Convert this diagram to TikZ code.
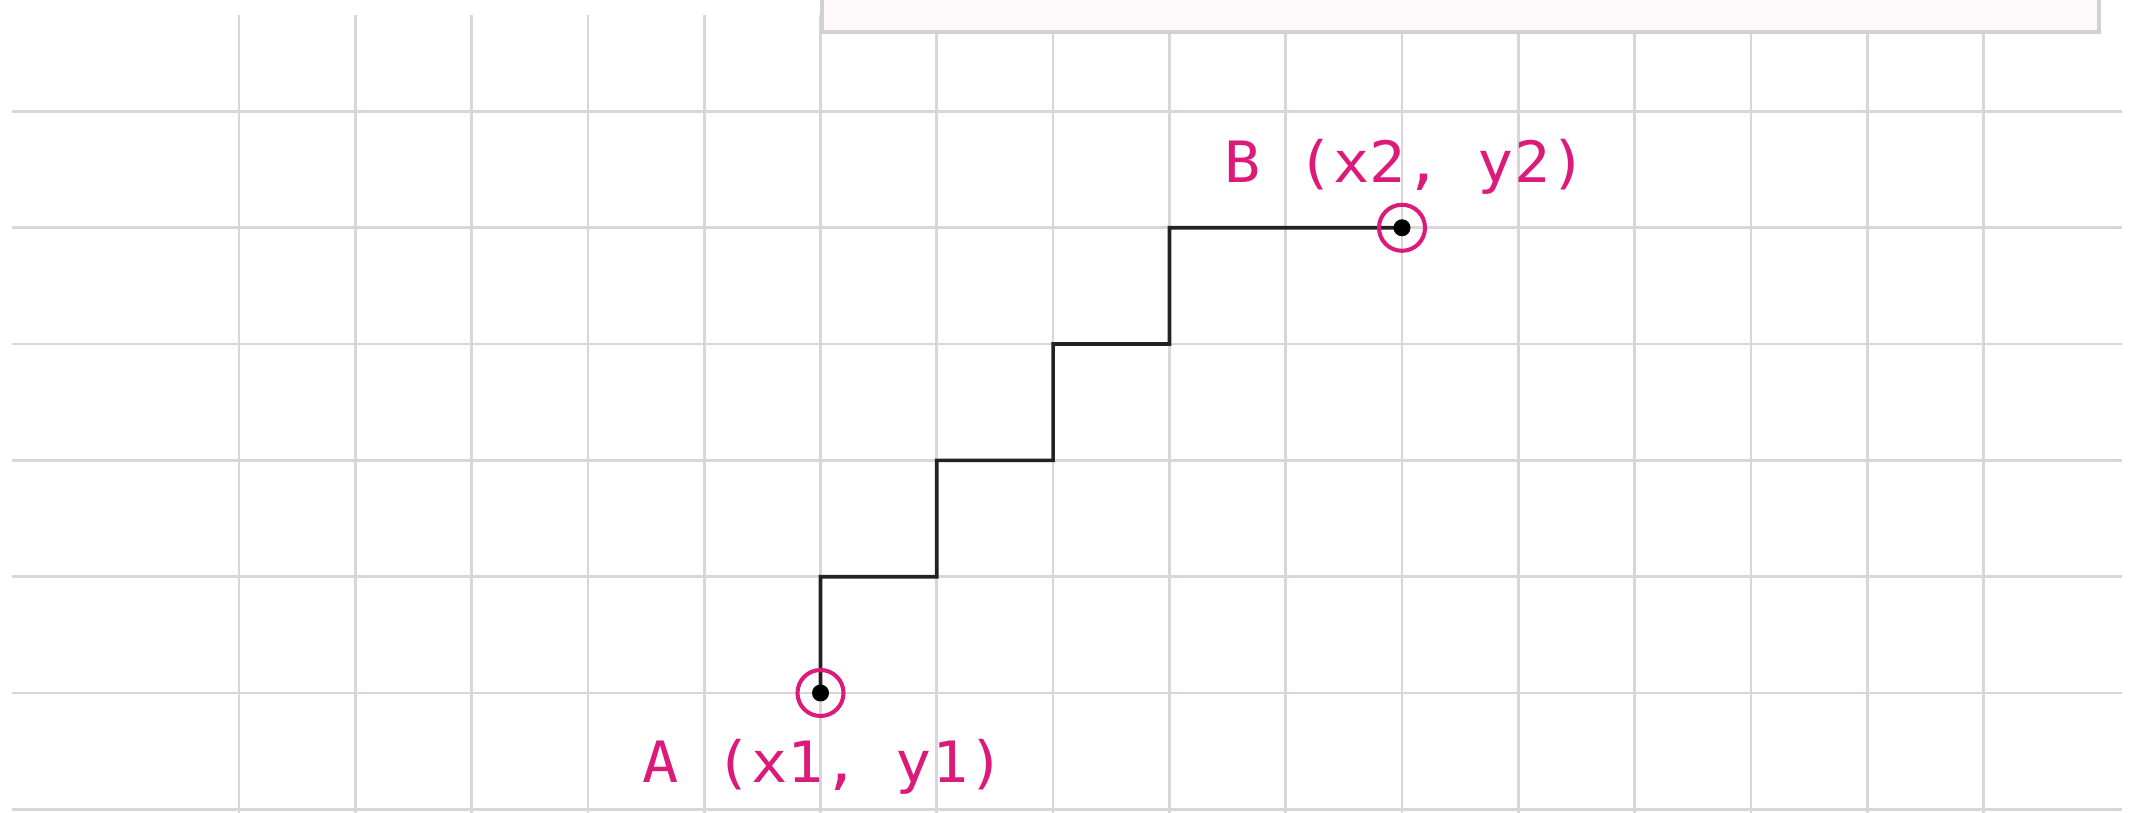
\documentclass[tikz,border=0pt]{standalone}
\usepackage{fontspec}
\usetikzlibrary{backgrounds}
\newfontfamily\lblfont[FakeStretch=1.055]{DejaVu Sans Mono}
\definecolor{mag}{HTML}{DC1A7A}
\definecolor{gridc}{HTML}{D9D6D8}
\definecolor{boxfill}{HTML}{FDF9FB}
\definecolor{boxline}{HTML}{D2D0D1}
\definecolor{stairc}{HTML}{222222}
\tikzset{
  gridline/.style={draw=gridc, line width=0.75pt},
  boxst/.style={draw=boxline, fill=boxfill, line width=1pt},
  stair/.style={draw=stairc, line width=1.05pt},
  ptcircle/.style={circle, draw=mag, line width=1.15pt, minimum size=0.46cm, inner sep=0pt,
    path picture={\fill[black] (path picture bounding box.center) circle (0.085cm);}},
  lbl/.style={text=mag, inner sep=0pt, font=\lblfont\fontsize{16.2}{19}\selectfont}
}
\begin{document}
\begin{tikzpicture}[x=0.01cm,y=-0.01cm]
\useasboundingbox (0,0) rectangle (2132,813);
\node[ptcircle] (A) at (820.5,693) {};
\node[ptcircle] (B) at (1402,227.8) {};
\node[lbl, anchor=base west] (Alab) at (642,783) {A (x1, y1)};
\node[lbl, anchor=base west] (Blab) at (1224,183) {B (x2, y2)};
\begin{scope}[on background layer]
  \fill[white] (0,0) rectangle (2132,813);
  \foreach \i in {0,...,15} \draw[gridline] ({239+116.3*\i},15) -- ({239+116.3*\i},813);
  \foreach \j in {0,...,6} \draw[gridline] (12,{111.5+116.3*\j}) -- (2122,{111.5+116.3*\j});
  \draw[boxst] (822,-20) rectangle (2099,32);
  \draw[stair] (A.center) -- ++(0,-116.3) -- ++(116.3,0) -- ++(0,-116.3) -- ++(116.3,0)
    -- ++(0,-116.3) -- ++(116.3,0) -- ++(0,-116.3) -- (B.center);
\end{scope}
\end{tikzpicture}
\end{document}
